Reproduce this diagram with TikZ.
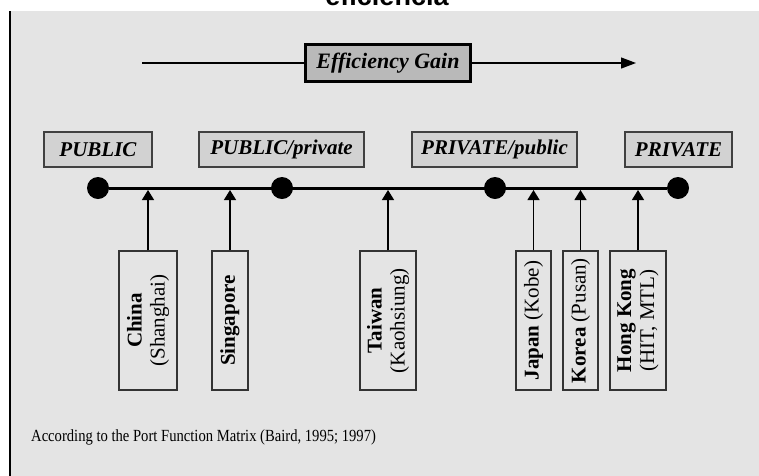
\documentclass[tikz,border=0pt]{standalone}
\usepackage{fontspec}
\setmainfont{Liberation Serif}
\newfontfamily\headfont{Liberation Sans}
\newfontfamily\srcfont[FakeStretch=0.86]{Liberation Serif}
\usetikzlibrary{arrows.meta}
\definecolor{panel}{HTML}{E4E4E4}
\definecolor{gainfill}{HTML}{B9B9B9}
\definecolor{catfill}{HTML}{D2D2D2}

\begin{document}
\begin{tikzpicture}[
    x=1pt, y=-1pt,
    catbox/.style={draw=black!75, line width=1.2pt, fill=catfill, minimum width=#1, minimum height=35pt, inner sep=0pt, font=\fontsize{21}{24}\selectfont\bfseries\itshape},
    portbox/.style={draw=black!80, line width=1.2pt, fill=panel, rotate=90, minimum width=139pt, minimum height=#1, inner sep=0pt, align=center, font=\fontsize{21}{23}\selectfont},
    portdot/.style={circle, fill=black, minimum size=22pt, inner sep=0pt},
    arrow/.style={-{Triangle[length=15pt, width=11pt]}, line width=1.2pt},
    uparrow/.style={-{Triangle[length=10pt, width=12pt]}, line width=1.3pt}
]
    \useasboundingbox (0,0) rectangle (759,475);

    % Panel
    \fill[panel] (9,11) rectangle (760,476);
    \draw[line width=2pt] (9.5,11) -- (9.5,476);
    \node[anchor=base, font=\fontsize{27}{30}\headfont\bfseries] (heading) at (387,5) {eficiencia};

    % Efficiency gain
    \coordinate (gainstart) at (142,63);
    \coordinate (gainend) at (636,63);
    \draw[arrow] (gainstart) -- (gainend);
    \node[draw, line width=3pt, fill=gainfill, minimum width=165pt, minimum height=37pt, inner sep=0pt, font=\fontsize{22}{24}\selectfont\bfseries\itshape] (gain) at (388,63) {Efficiency Gain};

    % Categories
    \node[catbox=108pt] (c1) at (98,149.5) {PUBLIC};
    \node[catbox=165pt] (c2) at (281.5,149.5) {PUBLIC/private};
    \node[catbox=165pt] (c3) at (494.5,149.5) {PRIVATE/public};
    \node[catbox=107pt] (c4) at (678.5,149.5) {PRIVATE};

    % Timeline
    \node[portdot] (d1) at (98,188) {};
    \node[portdot] (d2) at (282,188) {};
    \node[portdot] (d3) at (495,188) {};
    \node[portdot] (d4) at (678,188) {};
    \draw[line width=3pt] (d1) -- (d4);
    \coordinate (axis) at (0,190);

    % Ports
    \node[portbox=58pt] (china) at (148,320.5) {\textbf{China}\\(Shanghai)};
    \node[portbox=36pt] (singapore) at (230,320.5) {\textbf{Singapore}};
    \node[portbox=56pt] (taiwan) at (388,320.5) {\textbf{Taiwan}\\(Kaohsiung)};
    \node[portbox=35pt] (japan) at (533.5,320.5) {\textbf{Japan} (Kobe)};
    \node[portbox=35pt] (korea) at (580.5,320.5) {\textbf{Korea} (Pusan)};
    \node[portbox=56pt] (hongkong) at (638,320.5) {\textbf{Hong Kong}\\(HIT, MTL)};

    % Arrows up to the timeline
    \foreach \p in {china, singapore, taiwan, japan, korea, hongkong}
        \draw[uparrow] (\p.east) -- (\p.east |- axis);

    % Source
    \node[anchor=base west, inner sep=0pt, font=\fontsize{17}{19}\srcfont] (source) at (31,441) {According to the Port Function Matrix (Baird, 1995; 1997)};

\end{tikzpicture}
\end{document}
